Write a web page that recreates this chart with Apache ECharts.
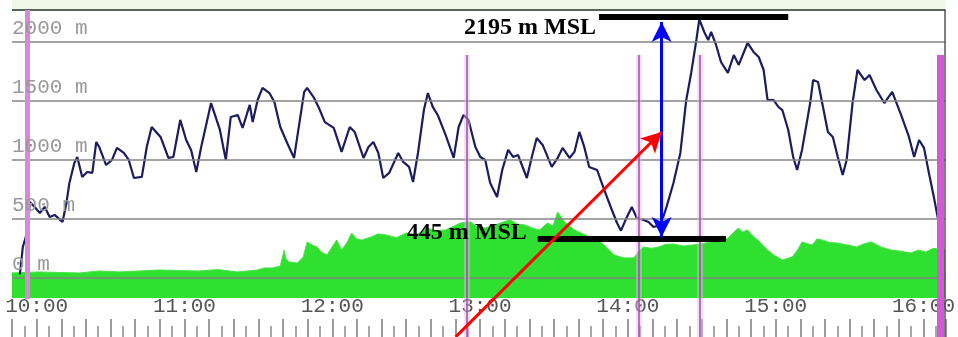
<!DOCTYPE html>
<html>
<head>
<meta charset="utf-8">
<script src="https://cdn.jsdelivr.net/npm/echarts@6/dist/echarts.min.js"></script>
<style>
  html, body { margin: 0; padding: 0; background: #fff; }
  #chart { width: 958px; height: 337px; }
</style>
</head>
<body>
<div id="chart"></div>
<script>
// time in minutes after 10:00, altitude in m MSL
const flightTime = [-6.8, -5.6, -3.6, -2.8, -0.8, 1.3, 3.3, 5.3, 7.3, 10.5, 12.1, 13.3, 15.3, 16.5, 18.5, 20.5, 22.6, 24.2, 25.4, 28.2, 30.6, 32.6, 35.4, 37.4, 39.5, 42.7, 44.7, 46.7, 50.3, 53.5, 55.5, 58.3, 60.7, 62.7, 64.8, 66.8, 70.8, 74.4, 76.8, 78.8, 81.6, 83.6, 86.5, 87.7, 89.7, 91.7, 94.5, 96.5, 98.9, 101.7, 104.5, 105.8, 108.6, 109.8, 112.6, 114.6, 117.0, 120.6, 123.8, 127.1, 129.1, 132.7, 134.7, 136.7, 138.7, 140.7, 143.1, 146.8, 148.8, 151.2, 152.8, 154.8, 157.2, 158.8, 160.8, 162.8, 166.0, 169.3, 171.3, 173.3, 175.3, 178.1, 180.1, 182.1, 184.1, 186.9, 189.0, 191.4, 193.4, 195.4, 199.0, 201.0, 203.0, 205.4, 209.1, 211.5, 213.5, 216.3, 218.3, 220.3, 222.3, 224.3, 227.5, 230.4, 233.2, 235.6, 237.2, 239.6, 241.6, 243.6, 246.4, 248.4, 250.4, 253.3, 255.7, 258.5, 261.3, 263.7, 265.7, 267.8, 269.0, 271.0, 272.6, 273.8, 275.8, 277.8, 280.6, 283.0, 285.0, 288.6, 291.0, 293.1, 295.1, 296.7, 299.1, 301.1, 302.7, 305.1, 307.1, 308.7, 310.7, 314.0, 315.2, 317.2, 319.2, 321.2, 323.2, 325.2, 327.2, 328.8, 331.2, 333.2, 336.1, 338.1, 340.9, 344.1, 347.3, 350.9, 354.1, 356.2, 358.2, 360.2, 362.2, 364.2, 366.2, 367.0];
const flightAlt = [30, 262, 406, 643, 601, 550, 601, 516, 533, 474, 635, 804, 973, 1024, 855, 897, 889, 1151, 1109, 956, 999, 1101, 1058, 999, 846, 855, 1109, 1278, 1194, 1016, 1024, 1338, 1168, 1084, 897, 1109, 1481, 1253, 999, 1363, 1380, 1270, 1465, 1320, 1507, 1609, 1566, 1490, 1278, 1143, 1016, 1194, 1575, 1609, 1524, 1439, 1320, 1270, 1067, 1278, 1236, 1016, 1109, 1151, 1058, 846, 889, 1058, 982, 940, 812, 1058, 1422, 1566, 1448, 1380, 1211, 1016, 1278, 1380, 1338, 1109, 1024, 999, 804, 685, 914, 1084, 1024, 1041, 846, 1024, 1185, 1126, 940, 1016, 1101, 1016, 1067, 1236, 1109, 940, 914, 745, 592, 465, 400, 516, 601, 507, 491, 474, 431, 448, 601, 804, 1058, 1507, 1736, 2015, 2190, 2083, 2015, 2083, 1973, 1829, 1736, 1888, 1804, 1990, 1914, 1871, 1761, 1507, 1507, 1448, 1422, 1253, 1024, 914, 1084, 1481, 1676, 1660, 1448, 1236, 1194, 1024, 872, 999, 1481, 1761, 1676, 1719, 1592, 1481, 1575, 1380, 1194, 1024, 1168, 1101, 889, 685, 465, 279];

const terrainTime = [-10, 1.3, 9.0, 17.4, 25.5, 33.5, 41.5, 49.5, 57.5, 65.6, 73.5, 81.6, 89.7, 92.5, 95.8, 98.9, 100.5, 101.2, 102.5, 105.8, 108.2, 109.8, 111.8, 113.8, 115.5, 117.8, 119.6, 121.8, 123.8, 126.0, 127.9, 129.8, 131.9, 135.9, 138.5, 142.0, 146.0, 150.0, 154.2, 158.0, 162.0, 166.0, 169.5, 172.1, 176.1, 179.0, 182.1, 186.1, 189.0, 192.2, 195.2, 198.2, 201.5, 204.2, 207.4, 209.6, 211.5, 214.3, 218.3, 221.0, 224.3, 227.5, 230.4, 234.4, 238.4, 242.4, 244.6, 246.4, 249.5, 252.5, 255.5, 258.5, 262.5, 266.5, 270.2, 273.8, 276.0, 278.6, 280.4, 282.6, 284.8, 286.6, 288.6, 290.5, 292.7, 296.7, 299.5, 302.7, 306.7, 309.0, 310.7, 312.8, 314.8, 316.8, 318.8, 321.8, 324.8, 328.8, 332.8, 336.0, 338.9, 342.9, 346.9, 350.9, 354.9, 357.9, 360.9, 364.0, 369];
const terrainAlt = [42, 50, 45, 42, 58, 50, 58, 67, 62, 58, 70, 50, 67, 84, 84, 101, 236, 160, 135, 126, 175, 304, 279, 262, 220, 194, 250, 321, 236, 300, 380, 330, 321, 347, 372, 363, 340, 380, 360, 423, 400, 406, 440, 465, 474, 430, 423, 448, 470, 491, 455, 448, 420, 406, 465, 440, 558, 474, 406, 380, 347, 320, 279, 194, 169, 169, 230, 262, 250, 262, 285, 287, 270, 279, 290, 304, 340, 355, 330, 380, 420, 389, 406, 360, 321, 236, 190, 152, 177, 240, 304, 290, 279, 330, 321, 300, 296, 280, 262, 290, 304, 260, 236, 225, 211, 235, 219, 250, 236];

const altTicks = [0, 500, 1000, 1500, 2000];
const hourTicks = [0, 60, 120, 180, 240, 300, 360];

// vertical event markers
const eventTime = [-4, 174.5, 244.4, 269.3, 366.8];
const eventTop = [2270, 1888, 1888, 1888, 1888];
const eventBottom = [-179, -500, -500, -500, -500];
const eventKind = ['wide', 'thin', 'thin', 'thin', 'heavy'];

// annotations
const labelText = ['2195 m MSL', '445 m MSL'];
const labelTime = [227.1, 199.0];
const labelAlt = [2117, 380];
const barStart = [228.3, 203.4];
const barEnd = [305.1, 279.8];
const barAlt = [2210, 335];
const blueArrow = [[253.7, 2168], [253.7, 346]];
const redArrow = [[170.1, -500], [253.7, 1236]];

const plotTop = 2270;
const plotBottom = -170;
const plotRight = 369;

const chart = echarts.init(document.getElementById('chart'));

const eventStyle = {
  wide: { color: '#d68ad9', width: 5 },
  thin: { color: '#9450a4', width: 1.5 },
  heavy: { color: '#d358d6', width: 7 }
};

const eventLines = [];
eventTime.forEach((t, i) => {
  if (eventKind[i] === 'thin') {
    eventLines.push([
      { coord: [t, eventTop[i]], lineStyle: { color: 'rgba(232,180,236,0.45)', width: 6, type: 'solid' } },
      { coord: [t, eventBottom[i]] }
    ]);
  }
  eventLines.push([
    { coord: [t, eventTop[i]], lineStyle: Object.assign({ type: 'solid' }, eventStyle[eventKind[i]]) },
    { coord: [t, eventBottom[i]] }
  ]);
});

const option = {
  animation: false,
  backgroundColor: '#ffffff',
  grid: { left: 12, right: 3, top: 0, bottom: 0 },
  xAxis: {
    type: 'value',
    min: -10,
    max: plotRight,
    interval: 10,
    axisLine: { show: false, onZero: false },
    splitLine: { show: false },
    axisTick: { show: true, inside: true, length: 18, lineStyle: { color: '#7a7a7a', width: 1.5 } },
    minorTick: { show: true, splitNumber: 2, length: 11, lineStyle: { color: '#8a8a8a', width: 1.5 } },
    axisLabel: {
      inside: true,
      margin: 20,
      fontFamily: 'Liberation Mono',
      fontSize: 21,
      color: '#555',
      formatter: v => hourTicks.indexOf(v) >= 0 ? (10 + v / 60) + ':00' : ''
    }
  },
  yAxis: {
    type: 'value',
    min: -501,
    max: 2354,
    show: false
  },
  series: [
    {
      name: 'terrain',
      type: 'line',
      z: 1,
      symbol: 'none',
      data: terrainTime.map((t, i) => [t, terrainAlt[i]]),
      lineStyle: { color: '#45e445', width: 1 },
      areaStyle: { color: '#30e030', opacity: 1, origin: plotBottom }
    },
    {
      name: 'frame',
      type: 'line',
      z: 2,
      data: [],
      clip: false,
      markArea: {
        silent: true,
        itemStyle: { color: '#eef8e8' },
        data: [[{ coord: [-10, plotTop] }, { coord: [plotRight, 2354] }]]
      },
      markLine: {
        silent: true,
        symbol: 'none',
        label: {
          position: 'insideStartTop',
          distance: [0, 3],
          fontFamily: 'Liberation Mono',
          fontSize: 21,
          color: '#999',
          formatter: p => p.value + ' m'
        },
        lineStyle: { color: '#858585', width: 1.6, type: 'solid' },
        data: altTicks.map(v => ({ yAxis: v })).concat([
          [{ coord: [-10, plotTop], lineStyle: { color: '#56665a', width: 2 }, label: { show: false } },
           { coord: [plotRight, plotTop] }],
          [{ coord: [plotRight - 0.4, plotTop], lineStyle: { color: '#555', width: 1.5 }, label: { show: false } },
           { coord: [plotRight - 0.4, -501] }]
        ])
      }
    },
    {
      name: 'events',
      type: 'line',
      z: 3,
      data: [],
      clip: false,
      markLine: {
        silent: true,
        symbol: 'none',
        label: { show: false },
        data: eventLines
      }
    },
    {
      name: 'flight',
      type: 'line',
      z: 4,
      symbol: 'none',
      data: flightTime.map((t, i) => [t, flightAlt[i]]),
      lineStyle: { color: '#1c1c5e', width: 2.2 }
    },
    {
      name: 'annotations',
      type: 'line',
      z: 5,
      data: [],
      clip: false,
      markLine: {
        silent: true,
        label: { show: false },
        data: [
          [{ coord: [barStart[0], barAlt[0]], symbol: 'none', lineStyle: { color: '#000', width: 6, type: 'solid' } },
           { coord: [barEnd[0], barAlt[0]], symbol: 'none' }],
          [{ coord: [barStart[1], barAlt[1]], symbol: 'none', lineStyle: { color: '#000', width: 6, type: 'solid' } },
           { coord: [barEnd[1], barAlt[1]], symbol: 'none' }],
          [{ coord: blueArrow[0], symbol: 'arrow', symbolSize: [15, 20], lineStyle: { color: '#0000ff', width: 3, type: 'solid' } },
           { coord: blueArrow[1], symbol: 'arrow', symbolSize: [15, 20] }],
          [{ coord: redArrow[0], symbol: 'none', lineStyle: { color: '#ff0000', width: 3, type: 'solid' } },
           { coord: redArrow[1], symbol: 'arrow', symbolSize: [16, 20] }]
        ]
      },
      markPoint: {
        silent: true,
        symbol: 'circle',
        symbolSize: 0,
        itemStyle: { color: 'rgba(0,0,0,0)' },
        label: {
          show: true,
          position: 'left',
          distance: 0,
          fontFamily: 'Liberation Serif',
          fontWeight: 'bold',
          fontSize: 24,
          color: '#000',
          formatter: p => p.name
        },
        data: labelText.map((s, i) => ({ name: s, coord: [labelTime[i], labelAlt[i]] }))
      }
    }
  ]
};

chart.setOption(option);
window.addEventListener('resize', () => chart.resize());
</script>
</body>
</html>
